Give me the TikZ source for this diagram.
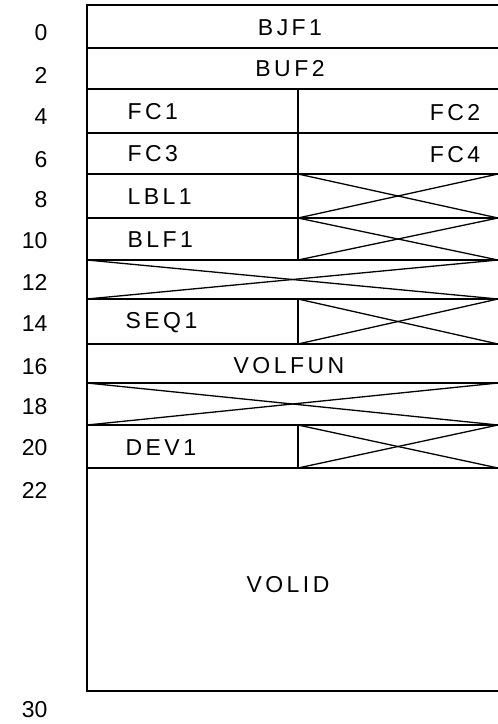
\documentclass[tikz,border=0pt]{standalone}
\usepackage{fontspec}
\setmainfont{Liberation Sans}
\newfontfamily\fieldfont[LetterSpace=15]{Liberation Sans}
\begin{document}
\begin{tikzpicture}[x=1pt, y=-1pt, line width=1.3pt,
    field/.style={font=\fieldfont\fontsize{23}{23}\selectfont, inner sep=0pt},
    offset/.style={font=\fontsize{23}{23}\selectfont, anchor=east, inner sep=0pt}]
  \useasboundingbox (0,0) rectangle (498,724);
  % Frame (right side runs off the page)
  \draw (498,5) -- (87,5) -- (87,691) -- (498,691);
  % Row boundaries
  \foreach \y in {48,89,133,174,218,260,299,344,383,425,468} {
    \draw (87,\y) -- (498,\y);
  }
  % Column split
  \draw (298,89) -- (298,260);
  \draw (298,299) -- (298,344);
  \draw (298,425) -- (298,468);
  % Unused right halves
  \foreach \t/\b in {174/218, 218/260, 299/344, 425/468} {
    \draw (298,\t) -- (498,\b);
    \draw (298,\b) -- (498,\t);
  }
  % Unused full rows
  \foreach \t/\b in {260/299, 383/425} {
    \draw (87,\t) -- (498,\b);
    \draw (87,\b) -- (498,\t);
  }
  % Offsets
  \foreach \y/\lab in {33/0, 75/2, 117/4, 160/6, 200/8, 241/10, 282/12,
      324/14, 367/16, 407/18, 448/20, 490/22, 710/30} {
    \node[offset] (off\lab) at (48,\y) {\lab};
  }
  % Fields
  \node[field] (bjf1) at (290,28) {BJF1};
  \node[field] (buf2) at (290,69) {BUF2};
  \node[field, anchor=west] (fc1) at (127,112) {FC1};
  \node[field] (fc2) at (455,113) {FC2};
  \node[field, anchor=west] (fc3) at (127,154) {FC3};
  \node[field] (fc4) at (455,155) {FC4};
  \node[field, anchor=west] (lbl1) at (127,197) {LBL1};
  \node[field, anchor=west] (blf1) at (127,240) {BLF1};
  \node[field, anchor=west] (seq1) at (125,323) {SEQ1};
  \node[field] (volfun) at (289,366) {VOLFUN};
  \node[field, anchor=west] (dev1) at (125,448) {DEV1};
  \node[field] (volid) at (288,585) {VOLID};
\end{tikzpicture}
\end{document}
